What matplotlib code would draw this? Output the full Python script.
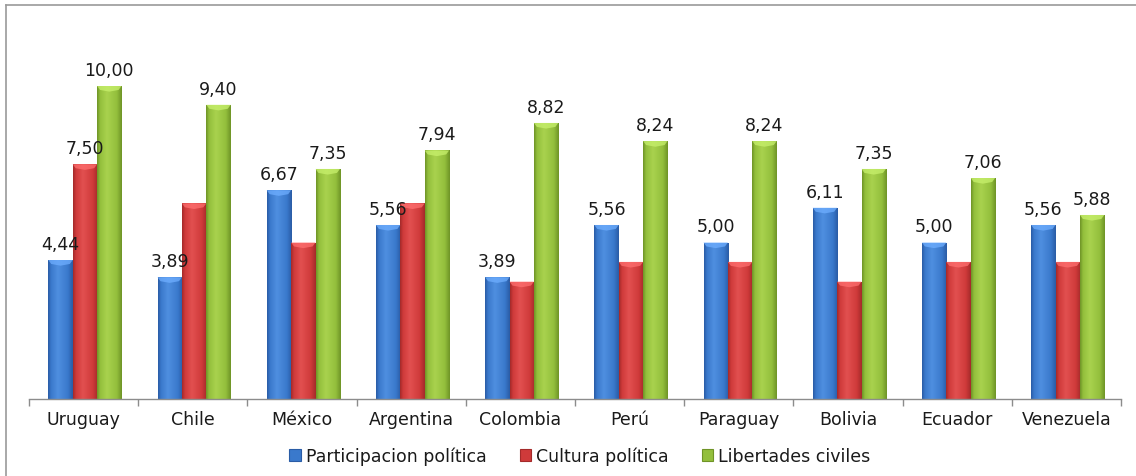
import numpy as np
import matplotlib
matplotlib.use("Agg")
import matplotlib.pyplot as plt
from matplotlib.colors import to_rgb
from matplotlib.patches import Polygon, Rectangle
from matplotlib.lines import Line2D

categories = ["Uruguay", "Chile", "México", "Argentina", "Colombia",
              "Perú", "Paraguay", "Bolivia", "Ecuador", "Venezuela"]
series_names = ["Participacion política", "Cultura política", "Libertades civiles"]
participacion = [4.44, 3.89, 6.67, 5.56, 3.89, 5.56, 5.00, 6.11, 5.00, 5.56]
cultura = [7.50, 6.25, 5.00, 6.25, 3.75, 4.38, 4.38, 3.75, 4.38, 4.38]
libertades = [10.00, 9.40, 7.35, 7.94, 8.82, 8.24, 8.24, 7.35, 7.06, 5.88]
# which bars carry a value label
label_part = [True] * 10
label_cult = [True] + [False] * 9
label_lib = [True] * 10

series = [participacion, cultura, libertades]
labels_on = [label_part, label_cult, label_lib]
# (dark edge, base, light highlight)
palettes = [
    ("#2a5ca6", "#3a79cc", "#4f8fe0"),
    ("#a42a2a", "#cf3a3a", "#e25050"),
    ("#6f9427", "#93bf3c", "#a9d24e"),
]

plt.rcParams['font.family'] = ['DejaVu Sans']
fig = plt.figure(figsize=(11.36, 4.77), dpi=100)
W, H = 1136, 477
ax = fig.add_axes([29 / W, 77 / H, 1092 / W, 380 / H])

def gradient(pal, n=64):
    d, b, l = [np.array(to_rgb(c)) for c in pal]
    stops = [0.0, 0.12, 0.4, 0.8, 1.0]
    cols = [d, b, l, b, d]
    t = np.linspace(0, 1, n)
    out = np.zeros((1, n, 3))
    for k in range(3):
        out[0, :, k] = np.interp(t, stops, [c[k] for c in cols])
    return out

x = np.arange(len(categories))
bw = 0.2234
for i, (vals, pal, lab) in enumerate(zip(series, palettes, labels_on)):
    offs = (i - 1) * bw + 0.012
    bars = ax.bar(x + offs, vals, width=bw, color=pal[1], zorder=2,
                  linewidth=0)
    grad = gradient(pal)
    for p, v, show in zip(bars.patches, vals, lab):
        x0 = p.get_x(); w = p.get_width(); h = p.get_height()
        im = ax.imshow(grad, extent=[x0, x0 + w, 0, h], aspect='auto',
                       zorder=2.5, interpolation='bilinear')
        im.set_clip_path(p)
        # top bevel highlight
        bh = 0.18
        lc = np.array(to_rgb(pal[2]))
        light = tuple(np.clip(lc + 0.12, 0, 1))
        poly = Polygon([(x0, h), (x0 + w, h), (x0 + w * 0.88, h - bh * 0.7),
                        (x0 + w * 0.5, h - bh), (x0 + w * 0.12, h - bh * 0.7)],
                       closed=True, facecolor=light, edgecolor='none',
                       alpha=0.75, zorder=3)
        ax.add_patch(poly)
        if show:
            ax.annotate(f"{v:.2f}".replace(".", ","), (x0 + w / 2, h),
                        xytext=(0, 8), textcoords='offset points',
                        ha='center', va='baseline', fontsize=12.5,
                        color='#1a1a1a', zorder=5)

ax.set_xlim(-0.5, len(categories) - 0.5)
ax.set_ylim(0, 380 / 31.3)
for s in ['top', 'right', 'left']:
    ax.spines[s].set_visible(False)
ax.spines['bottom'].set_color('#8c8c8c')
ax.spines['bottom'].set_linewidth(1.0)
ax.set_yticks([])
ax.set_xticks(np.arange(-0.5, len(categories), 1.0))
ax.set_xticklabels([])
ax.tick_params(axis='x', which='major', direction='out', length=5,
               color='#8c8c8c', width=1.0)
ax.set_xticks(x, minor=True)
ax.set_xticklabels(categories, minor=True, fontsize=12.5, color='#1a1a1a')
ax.tick_params(axis='x', which='minor', length=0, pad=8)

handles = []
for pal, name in zip(palettes, series_names):
    handles.append(Rectangle((0, 0), 1, 1, facecolor=pal[1],
                             edgecolor=pal[0], linewidth=0.8))
leg = fig.legend(handles, series_names, loc='center',
                 bbox_to_anchor=(580 / W, 20 / H), ncol=3, frameon=False,
                 fontsize=12.5, handlelength=0.65, handleheight=0.65,
                 handletextpad=0.3, columnspacing=1.9)
for t in leg.get_texts():
    t.set_color('#1a1a1a')

# outer chart frame (left and top visible)
fig.add_artist(Line2D([6 / W, 6 / W], [0, 1 - 6 / H], transform=fig.transFigure,
                      color='#9a9a9a', linewidth=1.2))
fig.add_artist(Line2D([6 / W, 1], [1 - 6 / H, 1 - 6 / H], transform=fig.transFigure,
                      color='#9a9a9a', linewidth=1.2))

fig.savefig("out.png", dpi=100)
